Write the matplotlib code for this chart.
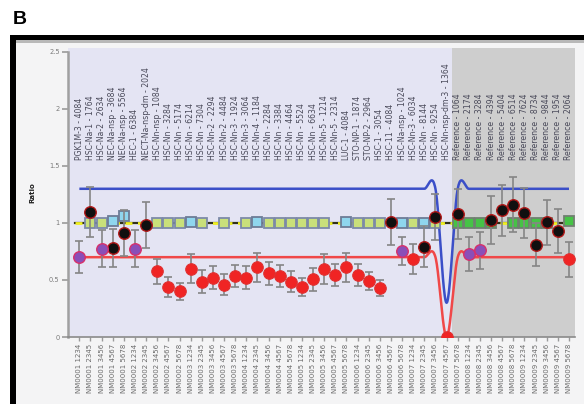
import numpy as np
import matplotlib
matplotlib.use("Agg")
import matplotlib.pyplot as plt
from matplotlib.patches import Rectangle

W, H, DPI = 584, 404, 100

# assay names printed above each column
top_labels = [
    "PGK1M-3 - 4084", "HSC-Na-1 - 1764", "HSC-Na-2 - 2634", "NEC-Na-nsp - 3684",
    "NEC-Na-nsp - 5564", "HEC-1 - 6384", "NECT-Na-nsp-dm - 2024", "HSC-Nn-nsp - 1084",
    "HSC-Nn - 3284", "HSC-Nn - 5174", "HSC-Nn - 6214", "HSC-Nn - 7304",
    "HSC-Nn-2 - 2294", "HSC-Nn-2 - 4484", "HSC-Nn-3 - 1924", "HSC-Nn-3 - 3064",
    "HSC-Nn-4 - 1184", "HSC-Nn - 2284", "HSC-Nn - 3384", "HSC-Nn - 4464",
    "HSC-Nn - 5524", "HSC-Nn - 6634", "HSC-Nn-5 - 1214", "HSC-Nn-5 - 2314",
    "LUC-1 - 4084", "STO-NP-1 - 1874", "STO-NP-2 - 2964", "HSC-1 - 3054",
    "HSC-11 - 4084", "HSC-Na-nsp - 1024", "HSC-Nn-3 - 6034", "HSC-Nn - 8144",
    "HSC-Nn - 9254", "HSC-Nn-nsp-dm-3 - 1364", "Reference - 1064", "Reference - 2174",
    "Reference - 3284", "Reference - 4394", "Reference - 5404", "Reference - 6514",
    "Reference - 7624", "Reference - 8734", "Reference - 9844", "Reference - 1954",
    "Reference - 2064",
]

# sample identifiers along the x axis
bottom_labels = [
    "NM0001 1234", "NM0001 2345", "NM0001 3456", "NM0001 4567", "NM0001 5678",
    "NM0002 1234", "NM0002 2345", "NM0002 3456", "NM0002 4567", "NM0002 5678",
    "NM0003 1234", "NM0003 2345", "NM0003 3456", "NM0003 4567", "NM0003 5678",
    "NM0004 1234", "NM0004 2345", "NM0004 3456", "NM0004 4567", "NM0004 5678",
    "NM0005 1234", "NM0005 2345", "NM0005 3456", "NM0005 4567", "NM0005 5678",
    "NM0006 1234", "NM0006 2345", "NM0006 3456", "NM0006 4567", "NM0006 5678",
    "NM0007 1234", "NM0007 2345", "NM0007 3456", "NM0007 4567", "NM0007 5678",
    "NM0008 1234", "NM0008 2345", "NM0008 3456", "NM0008 4567", "NM0008 5678",
    "NM0009 1234", "NM0009 2345", "NM0009 3456", "NM0009 4567", "NM0009 5678",
]

# P = intermediate, K = normal, R = reduced
point_kind = "PKPKKPK" + "RRRRRRRRRRRRRRRRRRRRR" + "KPRKKR" + "KPP" + "KKKKKKK" + "R"

ratio = [
    0.70, 1.10, 0.775, 0.78, 0.91, 0.775, 0.98,
    0.575, 0.44, 0.40, 0.60, 0.485, 0.52, 0.46, 0.535, 0.52, 0.61, 0.56, 0.535,
    0.485, 0.44, 0.505, 0.594, 0.544, 0.61, 0.544, 0.49, 0.43,
    1.01, 0.755, 0.684, 0.79, 1.05, 0.0,
    1.08, 0.73, 0.76, 1.03, 1.11, 1.16, 1.09, 0.81, 1.006, 0.93, 0.68,
]
ratio_err = [
    0.14, 0.22, 0.16, 0.17, 0.20, 0.16, 0.20,
    0.11, 0.09, 0.075, 0.125, 0.10, 0.10, 0.09, 0.10, 0.10, 0.13, 0.10, 0.10,
    0.09, 0.08, 0.10, 0.13, 0.10, 0.13, 0.10, 0.08, 0.07,
    0.20, 0.12, 0.13, 0.18, 0.20, 0.0,
    0.22, 0.15, 0.16, 0.21, 0.22, 0.24, 0.22, 0.19, 0.20, 0.19, 0.15,
]

# control limits (upper / lower) for each column
upper_limit = [1.3] * 33 + [0.3] + [1.3] * 11
lower_limit = [0.7] * 33 + [0.0] + [0.7] * 11

# reference sample markers around 1.0
ref_idx_plain = [1, 2, 7, 8, 9, 11, 13, 15, 17, 18, 19, 20, 21, 22, 25, 26, 27, 30, 32]
ref_val_plain = [1.0] * len(ref_idx_plain)
ref_idx_blue = [3, 4, 10, 16, 24, 29, 31]
ref_val_blue = [1.02, 1.06, 1.01, 1.01, 1.01, 1.0, 1.0]
ref_idx_green = [34, 35, 36, 37, 39, 40, 41, 42, 44]
ref_val_green = [1.0, 1.0, 1.0, 1.0, 1.0, 1.0, 1.0, 1.0, 1.02]

y_ticks = [0, 0.5, 1, 1.5, 2, 2.5]
y_tick_labels = ["0", "0.5", "1", "1.5", "2", "2.5"]


def smooth_curve(vals, steps=24):
    """Cardinal (Catmull-Rom) spline through equally spaced values."""
    y = np.asarray(vals, float)
    n = len(y)
    m = np.empty(n)
    m[1:-1] = (y[2:] - y[:-2]) / 2.0
    m[0] = y[1] - y[0]
    m[-1] = y[-1] - y[-2]
    t = np.linspace(0, 1, steps, endpoint=False)
    h00 = 2 * t**3 - 3 * t**2 + 1
    h10 = t**3 - 2 * t**2 + t
    h01 = -2 * t**3 + 3 * t**2
    h11 = t**3 - t**2
    xs, ys = [], []
    for i in range(n - 1):
        xs.append(i + t)
        ys.append(h00 * y[i] + h10 * m[i] + h01 * y[i + 1] + h11 * m[i + 1])
    xs.append([n - 1])
    ys.append([y[-1]])
    return np.concatenate(xs), np.concatenate(ys)


fig = plt.figure(figsize=(W / DPI, H / DPI), dpi=DPI, facecolor="white")


def px_rect(x0, y0, x1, y1, **kw):
    fig.add_artist(Rectangle((x0 / W, 1 - y1 / H), (x1 - x0) / W, (y1 - y0) / H,
                             transform=fig.transFigure, **kw))


# framed chart area
px_rect(10, 35, 590, 410, facecolor="black", edgecolor="none", zorder=0)
px_rect(16, 40, 590, 410, facecolor="#f4f4f5", edgecolor="none", zorder=0)
px_rect(16, 40, 590, 43, facecolor="#b8b8b8", edgecolor="none", zorder=0)

fig.text(13 / W, 1 - 24 / H, "B", fontsize=14, fontweight="bold",
         family="Liberation Sans", ha="left", va="baseline")

ax = fig.add_axes([68 / W, 1 - 337 / H, (575 - 68) / W, (337 - 48) / H])
ax.set_facecolor("#e4e4f3")
n = len(ratio)
x = np.arange(n)
ax.set_xlim(-1.02, 44.54)
ax.set_ylim(0, 2.535)

ax.axvspan(33.5, 44.54, color="#cecece", zorder=0.5, lw=0)

# control limit curves
bx, by = smooth_curve(upper_limit)
ax.plot(bx, by, color="#3b4fc8", lw=1.8, zorder=2, solid_capstyle="butt")
rx, ry = smooth_curve(lower_limit)
ax.plot(rx, ry, color="#f04848", lw=1.8, zorder=2, solid_capstyle="butt")

# reference level
ax.plot([-0.4, 44.3], [1, 1], color="#303018", lw=1.6, zorder=3)
ax.plot([-0.4, 44.3], [1, 1], color="#f0f020", lw=2.0, zorder=3.1,
        dashes=(2.5, 2.0))

ax.plot(ref_idx_plain, ref_val_plain, ls="none", marker="s", ms=6.5,
        mfc="#c9e07a", mec="#7c8aa8", mew=1.3, zorder=4)
ax.plot(ref_idx_blue, ref_val_blue, ls="none", marker="s", ms=7.5,
        mfc="#8fd6ee", mec="#6d7c96", mew=1.3, zorder=4)
ax.plot(ref_idx_green, ref_val_green, ls="none", marker="s", ms=7,
        mfc="#46c346", mec="#6f8070", mew=1.3, zorder=4)

# sample ratios with error bars
ax.errorbar(x, ratio, yerr=ratio_err, fmt="none", ecolor="#858585", elinewidth=1.2,
            capsize=3.2, capthick=1.2, zorder=5)
styles = {
    "R": dict(mfc="#f02424", mec="#e03030", mew=0.8),
    "K": dict(mfc="#101010", mec="#b01818", mew=1.0),
    "P": dict(mfc="#8a4fb8", mec="#d8306a", mew=1.0),
}
for k, st in styles.items():
    idx = [i for i, c in enumerate(point_kind) if c == k]
    ax.plot(idx, [ratio[i] for i in idx], ls="none", marker="o", ms=8.3, zorder=6, **st)

# column headers
for i, lab in enumerate(top_labels):
    ax.text(i, 1.55, lab, rotation=90, ha="center", va="bottom", fontsize=5.6,
            color="#4a4a5a", zorder=7, clip_on=False)

ax.set_yticks(y_ticks)
ax.set_yticklabels(y_tick_labels)
ax.set_xticks(x)
ax.set_xticklabels(bottom_labels, rotation=90)
ax.tick_params(axis="y", length=4, width=1.2, color="#9a9a9a", labelsize=4.8,
               labelcolor="#7a7a7a", pad=2)
ax.tick_params(axis="x", length=3, width=1.0, color="#9a9a9a", labelsize=5.0,
               labelcolor="#6a6a6a", pad=2)
for s in ["top", "right"]:
    ax.spines[s].set_visible(False)
ax.spines["left"].set_color("#a0a0a0")
ax.spines["left"].set_linewidth(1.8)
ax.spines["left"].set_bounds(0, 2.5)
ax.spines["bottom"].set_color("#8a8a8a")
ax.spines["bottom"].set_linewidth(1.2)
ax.set_ylabel("Ratio", fontsize=5, fontweight="bold", labelpad=10, color="#202020")

fig.savefig("out.png", dpi=DPI, facecolor="white")
